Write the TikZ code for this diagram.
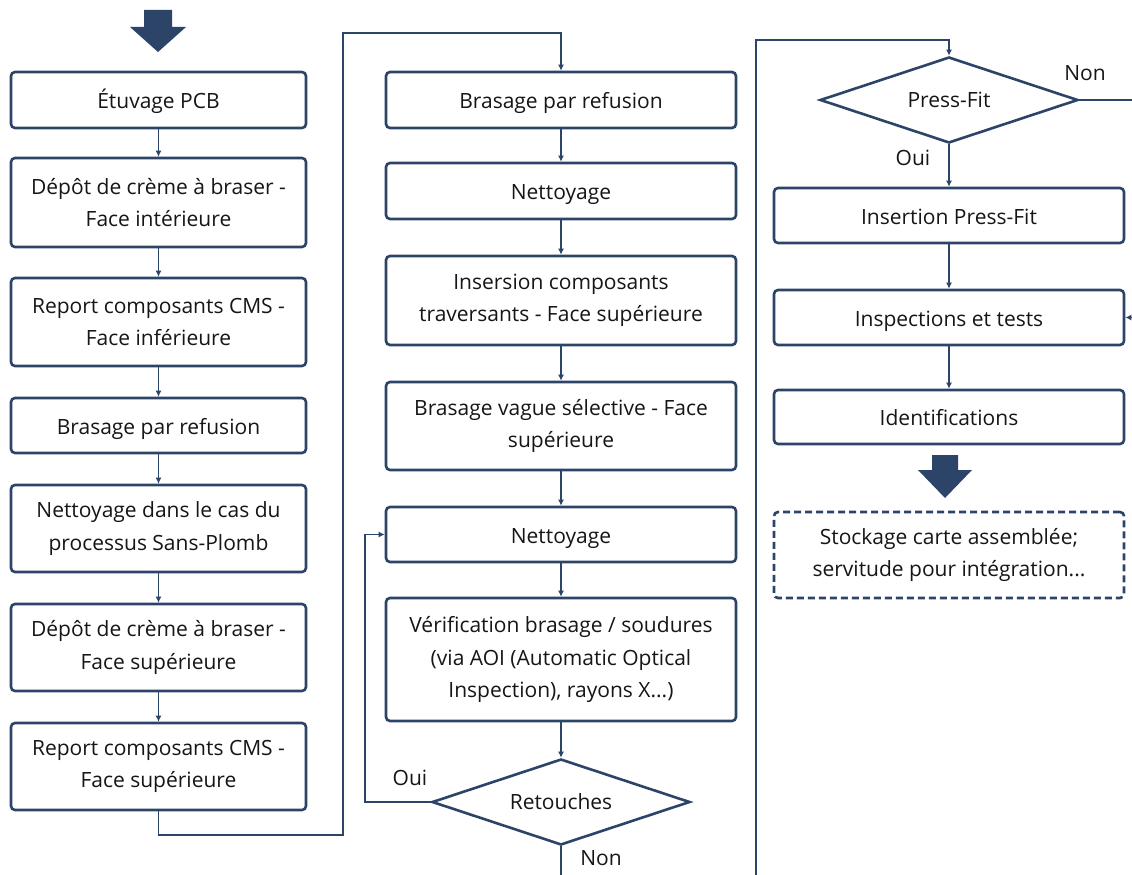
\documentclass[tikz,border=0pt]{standalone}
\usepackage{fontspec}
\setmainfont{Open Sans}
\usetikzlibrary{shapes.geometric,arrows.meta}
\definecolor{navy}{HTML}{2C4467}
\definecolor{ink}{HTML}{161616}
\begin{document}
\begin{tikzpicture}[x=1pt,y=-1pt,
  stepbox/.style={draw=navy,line width=2.6pt,rounded corners=4pt,fill=white,
    text=ink,align=center,inner sep=0pt,font=\fontsize{21}{32.5}\selectfont},
  oneline/.style={text height=20pt,text depth=3pt},
  decision/.style={draw=navy,line width=2.6pt,diamond,aspect=3,inner sep=0pt,
    minimum width=258pt,minimum height=86pt,text=ink,font=\fontsize{21}{32}\selectfont},
  conn/.style={draw=navy,line width=1.3pt},
  arr/.style={conn,-{Latex[length=6pt,width=6pt]}},
  lbl/.style={text=ink,font=\fontsize{21}{24}\selectfont,inner sep=0pt},
  bigarrow/.style={fill=navy,draw=none}]
\useasboundingbox (0,0) rectangle (1132,875);
\fill[white] (0,0) rectangle (1132,875);

% box helper: name, x, y, width, height, extra style, text
\newcommand{\boxat}[7]{\node[stepbox,#6,minimum width=#4,minimum height=#5] (#1) at (#2,#3) {#7};}

% column 1
\boxat{a1}{158.5}{100}{295pt}{56pt}{oneline}{Étuvage PCB}
\boxat{a2}{158.5}{202.5}{295pt}{89pt}{}{Dépôt de crème à braser -\\Face intérieure}
\boxat{a3}{158.5}{322}{295pt}{88pt}{}{Report composants CMS -\\Face inférieure}
\boxat{a4}{158.5}{425.5}{295pt}{55pt}{oneline}{Brasage par refusion}
\boxat{a5}{158.5}{528.5}{295pt}{87pt}{}{Nettoyage dans le cas du\\processus Sans-Plomb}
\boxat{a6}{158.5}{647.5}{295pt}{87pt}{}{Dépôt de crème à braser -\\Face supérieure}
\boxat{a7}{158.5}{766.5}{295pt}{87pt}{}{Report composants CMS -\\Face supérieure}

% column 2
\boxat{b1}{561}{100}{350pt}{56pt}{oneline}{Brasage par refusion}
\boxat{b2}{561}{191}{350pt}{56pt}{oneline}{Nettoyage}
\boxat{b3}{561}{300.5}{350pt}{89pt}{}{Insersion composants\\traversants - Face supérieure}
\boxat{b4}{561}{426}{350pt}{88pt}{}{Brasage vague sélective - Face\\supérieure}
\boxat{b5}{561}{534.5}{350pt}{55pt}{oneline}{Nettoyage}
\boxat{b6}{561}{659.5}{350pt}{123pt}{}{Vérification brasage / soudures\\(via AOI (Automatic Optical\\Inspection), rayons X...)}
\node[decision] (r1) at (561,802) {Retouches};

% column 3
\node[decision] (p1) at (949,100) {Press-Fit};
\boxat{c1}{949}{215.5}{350pt}{55pt}{oneline}{Insertion Press-Fit}
\boxat{c2}{949}{317.5}{350pt}{55pt}{oneline}{Inspections et tests}
\boxat{c3}{949}{417}{350pt}{54pt}{oneline}{Identifications}
\boxat{c4}{949}{555}{350pt}{86pt}{dashed,dash pattern=on 7pt off 4pt}{Stockage carte assemblée;\\servitude pour intégration...}

% block arrows
\fill[bigarrow] (144,10) -- (172,10) -- (172,27) -- (186,27) -- (158,52) -- (130,27) -- (144,27) -- cycle;
\fill[bigarrow] (932,455) -- (958,455) -- (958,470) -- (972,470) -- (945,498) -- (918,470) -- (932,470) -- cycle;

% free ends of the flow
\coordinate (inB) at (756,875);
\coordinate (outN) at (1132,100);
\coordinate (inR) at (1132,317.5);
\coordinate (outB) at (561,875);

% connectors
\draw[arr] (a1) -- (a2);
\draw[arr] (a2) -- (a3);
\draw[arr] (a3) -- (a4);
\draw[arr] (a4) -- (a5);
\draw[arr] (a5) -- (a6);
\draw[arr] (a6) -- (a7);
\draw[arr] (a7.south) -- (158.5,835) -- (343,835) -- (343,33) -| (b1.north);
\draw[arr] (b1) -- (b2);
\draw[arr] (b2) -- (b3);
\draw[arr] (b3) -- (b4);
\draw[arr] (b4) -- (b5);
\draw[arr] (b5) -- (b6);
\draw[arr] (b6) -- (r1);
\draw[arr] (r1.west) -| (365,534.5) -- (b5.west);
\draw[conn] (r1.south) -- (outB);
\draw[arr] (inB) -- (756,40) -| (p1.north);
\draw[conn] (p1.east) -- (outN);
\draw[arr] (p1) -- (c1);
\draw[arr] (c1) -- (c2);
\draw[arr] (inR) -- (c2.east);
\draw[arr] (c2) -- (c3);

% branch labels
\node[lbl] (l1) at (410,778) {Oui};
\node[lbl] (l2) at (601,858) {Non};
\node[lbl] (l3) at (1085,73) {Non};
\node[lbl] (l4) at (913,158) {Oui};
\end{tikzpicture}
\end{document}
